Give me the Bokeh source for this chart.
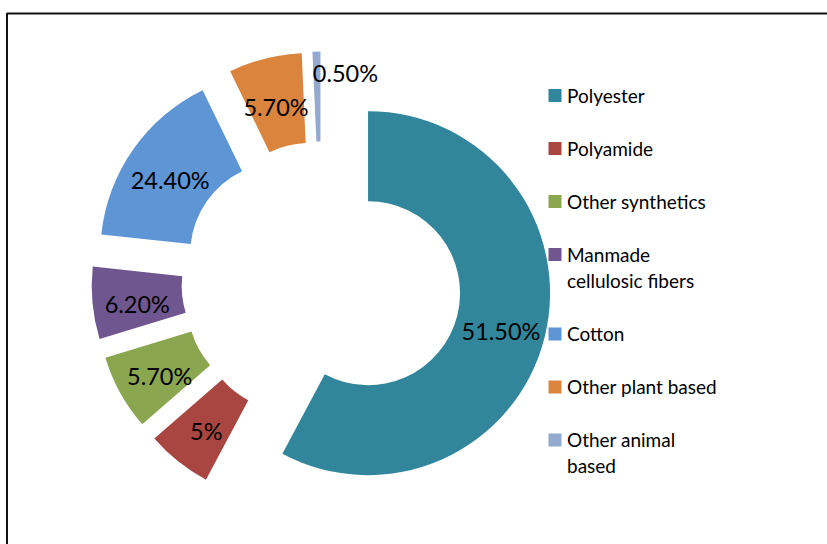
import math
from bokeh.plotting import figure
from bokeh.models import Range1d, ColumnDataSource
from bokeh.core.properties import value
from bokeh.embed import file_html
from bokeh.resources import INLINE

# ---------------- data ----------------
categories = ["Polyester", "Polyamide", "Other synthetics",
              "Manmade\ncellulosic fibers", "Cotton", "Other plant based",
              "Other animal\nbased"]
# slice sizes as drawn (share of the ring, %)
shares = [57.8, 5.8, 6.7, 6.4, 16.1, 6.5, 0.7]
# data-label texts as printed on the chart
label_texts = ["51.50%", "5%", "5.70%", "6.20%", "24.40%", "5.70%", "0.50%"]
colors = ["#31869B", "#A94642", "#8AA64E", "#70568F", "#5D95D5", "#DB843D", "#93A9CF"]

# ---------------- layout / style ----------------
W, H = 827, 544
CX, CY_SCREEN = 321, 281
EXPLODE = 48
R_OUT, R_IN = 182, 92
LABEL_DROP = 5
label_nudge = [(0, 0)] * 6 + [(28, -29)]  # screen px (right, down)
FONT = "Lato"

def sy(y):  # screen y -> data y
    return H - y

p = figure(width=W, height=H, x_range=Range1d(0, W), y_range=Range1d(0, H),
           output_backend="svg", toolbar_location=None, min_border=0)
p.axis.visible = False
p.xgrid.visible = False
p.ygrid.visible = False
p.outline_line_color = None
p.background_fill_color = "white"
p.border_fill_color = "white"

# frame
p.quad(left=6.5, right=W + 20, top=sy(13), bottom=-20, fill_color=None,
       line_color="#111111", line_width=2)

total = sum(shares)
xs, ys, starts, ends, lx, ly = [], [], [], [], [], []
cum = 0.0
r_mid = (R_OUT + R_IN) / 2
for i, s in enumerate(shares):
    t1 = cum / total * 360.0
    t2 = (cum + s) / total * 360.0
    cum += s
    tm = math.radians((t1 + t2) / 2)
    cx = CX + EXPLODE * math.sin(tm)
    cy = sy(CY_SCREEN) + EXPLODE * math.cos(tm)
    xs.append(cx)
    ys.append(cy)
    starts.append(math.radians(90 - t2))
    ends.append(math.radians(90 - t1))
    nx, ny = label_nudge[i]
    lx.append(cx + r_mid * math.sin(tm) + nx)
    ly.append(cy + r_mid * math.cos(tm) - ny - LABEL_DROP)

src = ColumnDataSource(dict(x=xs, y=ys, start=starts, end=ends, color=colors,
                            lx=lx, ly=ly, label=label_texts, name=categories))
p.annular_wedge(x="x", y="y", inner_radius=R_IN, outer_radius=R_OUT,
                start_angle="start", end_angle="end", direction="anticlock",
                fill_color="color", line_color=None, source=src)
p.text(x="lx", y="ly", text="label", source=src, text_align="center",
       text_baseline="middle", text_font=value(FONT), text_font_size="23.5px",
       text_color="black")

# legend (manual, to allow wrapped labels)
LEG_X, LEG_Y0, LEG_STEP, LEG_LINE = 554.5, 95, 53, 26.5
leg_x, leg_y, tx = [], [], []
extra = 0
for i, c in enumerate(categories):
    y = LEG_Y0 + LEG_STEP * i + LEG_LINE * extra
    extra += c.count("\n")
    leg_y.append(sy(y))
    leg_x.append(LEG_X)
    tx.append(LEG_X + 12)
lsrc = ColumnDataSource(dict(x=leg_x, y=leg_y, tx=tx, ty=[v + 12 for v in leg_y],
                             color=colors, name=categories))
p.scatter(x="x", y="y", marker="square", size=13, fill_color="color",
          line_color=None, source=lsrc)
p.text(x="tx", y="ty", text="name", source=lsrc, text_align="left",
       text_baseline="top", text_font=value(FONT), text_font_size="19px",
       text_color="black", text_line_height=1.14)

open("out.html", "w").write(file_html(p, INLINE))
